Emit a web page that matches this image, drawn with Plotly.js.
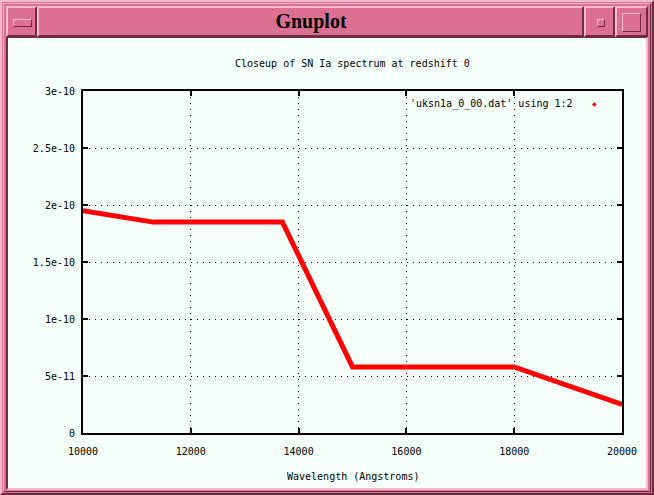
<!DOCTYPE html>
<html>
<head>
<meta charset="utf-8">
<script src="https://cdn.plot.ly/plotly-3.0.1.min.js"></script>
<style>
  html, body { margin: 0; padding: 0; background: #db7093; }
  #win { position: relative; width: 654px; height: 495px; overflow: hidden; background: #db7093; }
  .bev { position: absolute; box-sizing: border-box; background: #db7093;
         border-top: 2px solid #f7b9cb; border-left: 2px solid #f7b9cb;
         border-bottom: 2px solid #6e2d42; border-right: 2px solid #6e2d42; }
  .inset { position: absolute; box-sizing: border-box;
         border-top: 1px solid #6e2d42; border-left: 1px solid #6e2d42;
         border-bottom: 1px solid #f7b9cb; border-right: 1px solid #f7b9cb; }
  #content { position: absolute; left: 6px; top: 37px; width: 642px; height: 453px;
             background: #f5fffa; box-sizing: border-box;
             border-left: 2px solid #6e2d42; border-top: 1px solid #6e2d42;
             border-right: 2px solid #f7b9cb; border-bottom: 2px solid #f7b9cb; }
  #wtitle { position: absolute; left: 38px; top: 7px; width: 546px; height: 30px;
            font-family: "Liberation Serif", serif; font-weight: bold; font-size: 20px;
            line-height: 28px; text-align: center; color: #000; }
  #plot { position: absolute; left: 0; top: 0; width: 654px; height: 495px; }
</style>
</head>
<body>
<div id="win">
  <div class="bev" style="left:0;top:0;width:654px;height:495px;"></div>
  <div class="bev" style="left:3px;top:3px;width:648px;height:489px;border-width:1px;"></div>
  <div class="bev" style="left:6px;top:6px;width:31px;height:31px;"></div>
  <div class="bev" style="left:13px;top:19px;width:19px;height:8px;border-width:1px;"></div>
  <div class="bev" style="left:37px;top:6px;width:547px;height:31px;"></div>
  <div class="bev" style="left:584px;top:6px;width:31px;height:31px;"></div>
  <div class="bev" style="left:597px;top:19px;width:8px;height:8px;border-width:1px;"></div>
  <div class="bev" style="left:615px;top:6px;width:33px;height:31px;"></div>
  <div class="bev" style="left:622px;top:13px;width:19px;height:19px;border-width:1px;"></div>
  <div id="wtitle">Gnuplot</div>
  <div id="content"></div>
  <div id="plot"></div>
</div>
<script>
// Data
const wavelength = [10000, 11300, 13700, 15000, 18000, 20000];
const flux = [1.95e-10, 1.85e-10, 1.85e-10, 0.58e-10, 0.58e-10, 0.25e-10];

const xTickVals = [10000, 12000, 14000, 16000, 18000, 20000];
const xTickText = ['10000', '12000', '14000', '16000', '18000', '20000'];
const yTickVals = [0, 0.5e-10, 1e-10, 1.5e-10, 2e-10, 2.5e-10, 3e-10];
const yTickText = ['0', '5e-11', '1e-10', '1.5e-10', '2e-10', '2.5e-10', '3e-10'];

const chartTitle = 'Closeup of SN Ia spectrum at redshift 0';
const xTitle = 'Wavelength (Angstroms)';
const seriesName = "'uksn1a_0_00.dat' using 1:2";

const FONT = 'DejaVu Sans Mono, monospace';

const trace = {
  x: wavelength, y: flux, type: 'scatter', mode: 'lines',
  line: { color: '#ff0000', width: 5 },
  name: seriesName, showlegend: false, hoverinfo: 'skip'
};

const axisCommon = {
  showline: true, linecolor: '#000', linewidth: 2, mirror: 'ticks',
  ticks: 'inside', ticklen: 5, tickwidth: 2, tickcolor: '#000',
  showgrid: true, gridcolor: '#000', gridwidth: 1, griddash: '1px,5px',
  zeroline: false, tickfont: { family: FONT, size: 10, color: '#000' },
  tickmode: 'array', fixedrange: true
};

const layout = {
  width: 654, height: 495,
  margin: { l: 83, r: 32, t: 91, b: 62, pad: 0 },
  paper_bgcolor: 'rgba(0,0,0,0)', plot_bgcolor: 'rgba(0,0,0,0)',
  showlegend: false,
  xaxis: Object.assign({}, axisCommon, {
    range: [10000, 20000], tickvals: xTickVals, ticktext: xTickText,
    ticklabelstandoff: 8
  }),
  yaxis: Object.assign({}, axisCommon, {
    range: [0, 3e-10], tickvals: yTickVals, ticktext: yTickText,
    ticklabelstandoff: 4
  }),
  annotations: [
    { text: chartTitle, xref: 'paper', yref: 'paper', x: 0.5, y: 1.079,
      xanchor: 'center', yanchor: 'middle', showarrow: false,
      font: { family: FONT, size: 10, color: '#000' } },
    { text: xTitle, xref: 'paper', yref: 'paper', x: 0.5, y: -0.126,
      xanchor: 'center', yanchor: 'middle', showarrow: false,
      font: { family: FONT, size: 10, color: '#000' } },
    { text: seriesName, xref: 'paper', yref: 'paper', x: 0.913, y: 0.962,
      xanchor: 'right', yanchor: 'middle', showarrow: false,
      font: { family: FONT, size: 10, color: '#000' } },
    { text: '◆', xref: 'paper', yref: 'paper', x: 0.949, y: 0.962,
      xanchor: 'center', yanchor: 'middle', showarrow: false,
      font: { family: 'DejaVu Sans', size: 6, color: '#ff0000' } }
  ]
};

Plotly.newPlot('plot', [trace], layout, { displayModeBar: false, staticPlot: true });
</script>
</body>
</html>
